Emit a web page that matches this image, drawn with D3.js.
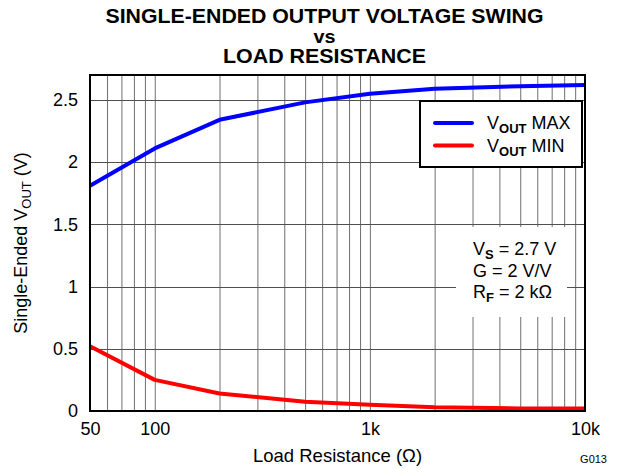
<!DOCTYPE html>
<html>
<head>
<meta charset="utf-8">
<script src="https://cdn.jsdelivr.net/npm/d3@7"></script>
<style>
  body { margin: 0; background: #fff; }
  svg { display: block; font-family: "Liberation Sans", Arial, sans-serif; }
  .grid line { stroke: #707070; stroke-width: 1; }
  .grid.h line { stroke: #505050; shape-rendering: crispEdges; }
  .grid path { display: none; }
  .ax path, .ax line { display: none; }
  .ax text { font-size: 18px; fill: #000; }
</style>
</head>
<body>
<div id="chart"></div>
<script>
// load resistance (ohm) and measured swing (V)
var rLoad = [50, 100, 200, 500, 1000, 2000, 5000, 10000];
var voutMax = [1.81, 2.11, 2.34, 2.48, 2.55, 2.59, 2.61, 2.62];
var voutMin = [0.52, 0.25, 0.14, 0.075, 0.05, 0.03, 0.02, 0.02];

var xTicks = [50, 100, 1000, 10000];
var xTickLabels = ["50", "100", "1k", "10k"];
var yTicks = [0, 0.5, 1, 1.5, 2, 2.5];
var xGrid = [60, 70, 80, 90, 100, 200, 300, 400, 500, 600, 700, 800, 900, 1000,
             2000, 3000, 4000, 5000, 6000, 7000, 8000, 9000];

var width = 618,
    height = 469,
    margin = {top: 75, right: 33, bottom: 58, left: 90};
var w = width - margin.left - margin.right,
    h = height - margin.top - margin.bottom;

var svg = d3.select("#chart").append("svg")
    .attr("width", width)
    .attr("height", height);

var x = d3.scaleLog().domain([50, 10000]).range([0, w]);
var y = d3.scaleLinear().domain([0, 2.7]).range([h, 0]);

var g = svg.append("g")
    .attr("transform", "translate(" + margin.left + "," + margin.top + ")");

// grid
g.append("g").attr("class", "grid")
    .attr("transform", "translate(0," + h + ")")
    .call(d3.axisBottom(x).tickValues(xGrid).tickSize(-h).tickFormat(""));
g.append("g").attr("class", "grid h")
    .call(d3.axisLeft(y).tickValues(yTicks.slice(1)).tickSize(-w).tickFormat(""));

// annotation box hides grid behind it
g.append("rect")
    .attr("x", 366).attr("y", 152)
    .attr("width", 111).attr("height", 90)
    .attr("fill", "#fff");

// axes labels
g.append("g").attr("class", "ax")
    .attr("transform", "translate(0," + h + ")")
    .call(d3.axisBottom(x).tickValues(xTicks).tickSize(0).tickPadding(11)
        .tickFormat(function (d, i) { return xTickLabels[i]; }));
g.append("g").attr("class", "ax")
    .call(d3.axisLeft(y).tickValues(yTicks).tickSize(0).tickPadding(12)
        .tickFormat(d3.format("~g")));

// curves
var line = d3.line()
    .x(function (d) { return x(d[0]); })
    .y(function (d) { return y(d[1]); });

g.append("path")
    .datum(d3.zip(rLoad, voutMax))
    .attr("d", line)
    .attr("fill", "none")
    .attr("stroke", "#0000ff")
    .attr("stroke-width", 4)
    .attr("stroke-linejoin", "round");

g.append("path")
    .datum(d3.zip(rLoad, voutMin))
    .attr("d", line)
    .attr("fill", "none")
    .attr("stroke", "#ff0000")
    .attr("stroke-width", 4)
    .attr("stroke-linejoin", "round");

// frame
g.append("rect")
    .attr("width", w).attr("height", h)
    .attr("fill", "none")
    .attr("stroke", "#000")
    .attr("stroke-width", 2);

// legend
var leg = g.append("g").attr("transform", "translate(330,26)");
leg.append("rect")
    .attr("width", 162).attr("height", 66)
    .attr("fill", "#fff")
    .attr("stroke", "#000")
    .attr("stroke-width", 2);
[["MAX", "#0000ff"], ["MIN", "#ff0000"]].forEach(function (d, i) {
    var yy = 22 + i * 22.5;
    leg.append("line")
        .attr("x1", 15).attr("x2", 52)
        .attr("y1", yy).attr("y2", yy)
        .attr("stroke", d[1])
        .attr("stroke-width", 4)
        .attr("stroke-linecap", "round");
    var t = leg.append("text")
        .attr("x", 67).attr("y", yy + 6)
        .style("font-size", "18px");
    t.append("tspan").text("V");
    t.append("tspan").attr("dy", 4).style("font-size", "13px")
        .style("font-weight", "bold").text("OUT");
    t.append("tspan").attr("dy", -4).text(" " + d[0]);
});

// conditions
var cond = [["V", "S", " = 2.7 V"], ["G = 2 V/V", "", ""], ["R", "F", " = 2 k\u03A9"]];
cond.forEach(function (c, i) {
    var t = g.append("text")
        .attr("x", 383).attr("y", 180 + i * 21.7)
        .style("font-size", "18px");
    t.append("tspan").text(c[0]);
    if (c[1]) {
        t.append("tspan").attr("dy", 4).style("font-size", "13px")
            .style("font-weight", "bold").text(c[1]);
        t.append("tspan").attr("dy", -4).text(c[2]);
    }
});

// titles
var title = ["SINGLE-ENDED OUTPUT VOLTAGE SWING", "vs", "LOAD RESISTANCE"];
var titleY = [23, 43, 62.5];
var titleSize = [21, 18, 21];
var titleLen = [438, 22, 203];
title.forEach(function (s, i) {
    svg.append("text")
        .attr("x", 324.5).attr("y", titleY[i])
        .attr("text-anchor", "middle")
        .attr("textLength", titleLen[i])
        .attr("lengthAdjust", "spacingAndGlyphs")
        .style("font-size", titleSize[i] + "px")
        .style("font-weight", "bold")
        .text(s);
});

svg.append("text")
    .attr("x", margin.left + w / 2).attr("y", 462)
    .attr("text-anchor", "middle")
    .style("font-size", "18.5px")
    .text("Load Resistance (\u03A9)");

svg.append("text")
    .attr("x", 607).attr("y", 463)
    .attr("text-anchor", "end")
    .style("font-size", "11px")
    .text("G013");

var yt = svg.append("text")
    .attr("transform", "translate(27," + (margin.top + h / 2) + ") rotate(-90)")
    .attr("text-anchor", "middle")
    .style("font-size", "18px");
yt.append("tspan").text("Single-Ended V");
yt.append("tspan").attr("dy", 4).style("font-size", "13px").text("OUT");
yt.append("tspan").attr("dy", -4).text(" (V)");
</script>
</body>
</html>
